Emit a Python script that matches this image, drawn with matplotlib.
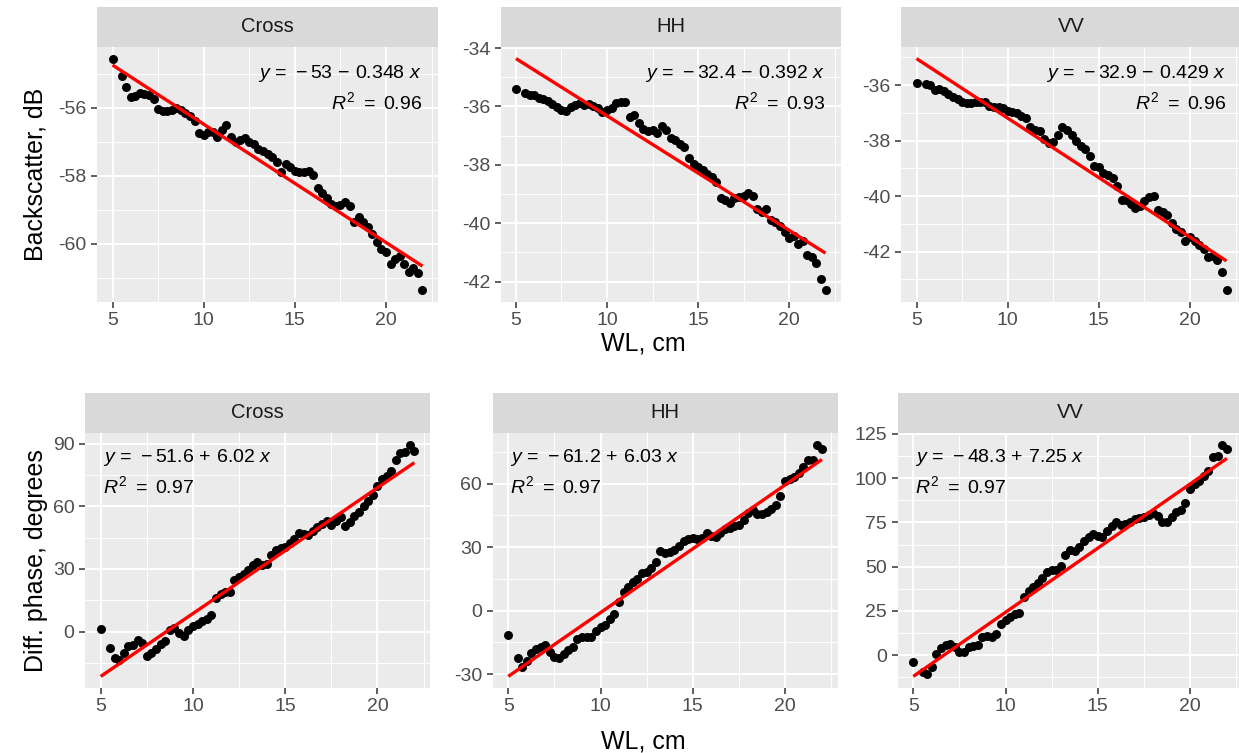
import numpy as np
import matplotlib
matplotlib.use('Agg')
import matplotlib.pyplot as plt
from matplotlib.ticker import MultipleLocator, FuncFormatter

plt.rcParams['font.family'] = ['Liberation Sans', 'DejaVu Sans']
plt.rcParams['axes.unicode_minus'] = False
plt.rcParams['mathtext.fontset'] = 'custom'
plt.rcParams['mathtext.rm'] = 'Liberation Sans'
plt.rcParams['mathtext.it'] = 'Liberation Sans:italic'
plt.rcParams['mathtext.bf'] = 'Liberation Sans:bold'

# wavelength grid (cm)
wl = np.concatenate([[5.0], np.arange(5.5, 22.01, 0.25)])

# backscatter, dB
bs_cross = [-54.55, -55.05, -55.4, -55.68, -55.65, -55.55, -55.58, -55.63, -55.75, -56.02,
            -56.08, -56.1, -56.05, -56.0, -56.05, -56.15, -56.25, -56.4, -56.75, -56.8,
            -56.72, -56.7, -56.85, -56.65, -56.5, -56.85, -57.0, -56.95, -56.9, -57.0,
            -57.05, -57.22, -57.28, -57.35, -57.45, -57.6, -57.9, -57.65, -57.75, -57.85,
            -57.9, -57.88, -57.85, -57.98, -58.35, -58.5, -58.65, -58.82, -58.9, -58.85,
            -58.78, -58.88, -59.35, -59.2, -59.35, -59.5, -59.7, -59.95, -60.15, -60.25,
            -60.6, -60.45, -60.35, -60.6, -60.82, -60.7, -60.85, -61.37]
bs_hh = [-35.39, -35.55, -35.6, -35.6, -35.7, -35.74, -35.82, -35.92, -36.02, -36.12,
         -36.15, -36.03, -35.95, -35.88, -35.95, -35.93, -35.97, -36.05, -36.18, -36.13,
         -36.05, -35.88, -35.85, -35.85, -36.35, -36.3, -36.55, -36.77, -36.83, -36.8,
         -36.9, -36.68, -36.8, -37.08, -37.15, -37.28, -37.4, -37.75, -37.98, -38.08,
         -38.17, -38.3, -38.42, -38.58, -39.15, -39.2, -39.3, -39.12, -39.1, -39.07,
         -38.97, -39.05, -39.5, -39.62, -39.5, -39.88, -39.95, -40.1, -40.3, -40.5,
         -40.45, -40.7, -40.62, -41.1, -41.15, -41.35, -41.9, -42.3]
bs_vv = [-35.94, -35.95, -35.98, -36.18, -36.13, -36.22, -36.32, -36.42, -36.5, -36.6,
         -36.66, -36.64, -36.62, -36.6, -36.62, -36.75, -36.8, -36.78, -36.84, -36.92,
         -36.98, -37.02, -37.12, -37.2, -37.5, -37.62, -37.65, -37.95, -38.1, -38.05,
         -37.8, -37.5, -37.62, -37.8, -38.0, -38.18, -38.3, -38.55, -38.92, -38.95,
         -39.18, -39.24, -39.35, -39.65, -40.15, -40.15, -40.3, -40.42, -40.35, -40.18,
         -40.04, -39.98, -40.5, -40.56, -40.7, -40.98, -41.2, -41.28, -41.62, -41.48,
         -41.62, -41.78, -41.9, -42.2, -42.15, -42.3, -42.75, -43.4]

# differential phase, degrees
ph_cross = [1.0, -8.0, -12.5, -13.5, -10.5, -7.0, -6.5, -4.0, -5.5, -11.5,
            -10.5, -8.5, -6.0, -4.5, 0.5, 1.5, -0.5, -2.0, 0.5, 2.5,
            3.5, 5.0, 6.0, 8.0, 16.0, 18.0, 19.0, 19.0, 24.5, 26.0,
            27.5, 29.5, 32.0, 33.5, 32.0, 32.5, 36.5, 39.0, 40.2, 40.5,
            42.6, 44.5, 47.0, 46.5, 46.0, 48.2, 50.0, 51.5, 53.0, 50.8,
            53.0, 55.0, 50.6, 52.2, 55.5, 57.0, 60.0, 62.5, 65.5, 69.5,
            73.2, 74.5, 77.0, 82.0, 85.5, 85.8, 89.5, 86.5]
ph_hh = [-11.4, -22.5, -26.5, -24.0, -20.0, -18.0, -17.0, -16.4, -19.3, -22.0,
         -22.5, -20.4, -18.5, -17.0, -13.5, -12.2, -12.5, -12.2, -9.5, -7.5,
         -6.6, -4.0, -1.5, 4.0, 9.0, 11.0, 13.5, 15.0, 17.8, 18.2,
         20.0, 23.0, 28.0, 27.3, 27.8, 28.5, 30.5, 33.0, 34.0, 34.4,
         34.0, 34.5, 36.8, 35.5, 34.6, 36.5, 38.5, 39.3, 39.8, 40.5,
         43.0, 46.0, 47.5, 45.5, 45.8, 46.5, 48.0, 50.0, 54.0, 61.5,
         62.1, 63.0, 65.0, 68.0, 71.0, 71.2, 78.5, 76.5]
ph_vv = [-4.1, -9.5, -10.5, -7.0, 0.5, 3.8, 5.5, 6.2, 4.5, 1.5,
         2.0, 4.3, 5.0, 5.8, 10.5, 10.8, 10.5, 11.9, 17.5, 19.8,
         21.5, 23.2, 24.0, 33.0, 36.0, 38.5, 40.8, 43.5, 46.8, 48.0,
         48.0, 50.5, 56.5, 59.5, 58.8, 61.0, 64.5, 67.0, 68.2, 67.3,
         67.0, 70.3, 73.1, 75.0, 73.5, 74.0, 75.5, 76.9, 77.4, 78.0,
         79.0, 80.5, 78.5, 75.5, 75.5, 78.0, 81.0, 82.0, 86.0, 94.0,
         97.0, 98.3, 101.0, 104.3, 112.0, 112.5, 119.0, 116.5]

facets = ['Cross', 'HH', 'VV', 'Cross', 'HH', 'VV']
series = [bs_cross, bs_hh, bs_vv, ph_cross, ph_hh, ph_vv]
intercepts = [-53, -32.4, -32.9, -51.6, -61.2, -48.3]
slopes = [-0.348, -0.392, -0.429, 6.02, 6.03, 7.25]
r2 = [0.96, 0.93, 0.96, 0.97, 0.97, 0.97]
ystep = [2, 2, 2, 30, 30, 25]

W, H = 1239, 753
fig = plt.figure(figsize=(W / 100, H / 100), dpi=100)

# panel boxes in pixels: left, top, right, bottom
boxes = [(97, 47, 438, 302), (500.5, 47, 841, 302), (901, 47, 1242, 302),
         (85, 433, 430, 688), (492.6, 433, 837.6, 688), (897.6, 433, 1242.6, 688)]
strip_h = 40

for i, (l, t, r, b) in enumerate(boxes):
    ax = fig.add_axes([l / W, 1 - b / H, (r - l) / W, (b - t) / H])
    sax = fig.add_axes([l / W, 1 - t / H, (r - l) / W, strip_h / H])
    sax.set_facecolor('#D9D9D9')
    sax.set_xticks([]); sax.set_yticks([])
    for s in sax.spines.values():
        s.set_visible(False)
    sax.text(0.5, 0.5, facets[i], ha='center', va='center', fontsize=14.5, color='#1A1A1A')

    y = np.array(series[i])
    a, k = intercepts[i], slopes[i]
    xs = np.array([wl.min(), wl.max()])
    fit = a + k * xs

    ax.set_facecolor('#EBEBEB')
    for s in ax.spines.values():
        s.set_visible(False)
    ax.scatter(wl, y, s=42, c='black', linewidths=0, zorder=3)
    ax.plot(xs, fit, color='red', lw=2.4, zorder=4, solid_capstyle='butt')

    xpad = 0.05 * (wl.max() - wl.min())
    ax.set_xlim(wl.min() - xpad, wl.max() + xpad)
    lo, hi = min(y.min(), fit.min()), max(y.max(), fit.max())
    ypad = 0.05 * (hi - lo)
    ax.set_ylim(lo - ypad, hi + ypad)

    ax.xaxis.set_major_locator(MultipleLocator(5))
    ax.xaxis.set_minor_locator(MultipleLocator(2.5))
    ax.yaxis.set_major_locator(MultipleLocator(ystep[i]))
    ax.yaxis.set_minor_locator(MultipleLocator(ystep[i] / 2))
    ax.yaxis.set_major_formatter(FuncFormatter(lambda v, p: f'{v:g}'))
    ax.grid(which='major', color='white', lw=1.4)
    ax.grid(which='minor', color='white', lw=0.7)
    ax.set_axisbelow(True)
    ax.tick_params(which='minor', length=0)
    ax.tick_params(which='major', length=4.3, width=1.1, color='#333333',
                   labelcolor='#4D4D4D', labelsize=14, pad=3.2)

    sign = '+' if k >= 0 else '-'
    eq = rf'$\mathit{{y}}\,=\,{a:g}\,{sign}\,{abs(k):g}\ \mathit{{x}}$'
    rr = rf'$\mathit{{R}}^2\ =\ {r2[i]:.2f}$'
    if i < 3:
        ax.text(0.953, 0.878, eq, transform=ax.transAxes, ha='right', va='baseline', fontsize=14)
        ax.text(0.953, 0.757, rr, transform=ax.transAxes, ha='right', va='baseline', fontsize=14)
    else:
        ax.text(0.051, 0.885, eq, transform=ax.transAxes, ha='left', va='baseline', fontsize=14)
        ax.text(0.051, 0.764, rr, transform=ax.transAxes, ha='left', va='baseline', fontsize=14)

fig.text(36 / W, 1 - 174.5 / H, 'Backscatter, dB', rotation=90, ha='center', va='center', fontsize=18)
fig.text(36 / W, 1 - 560.5 / H, 'Diff. phase, degrees', rotation=90, ha='center', va='center', fontsize=18)
fig.text(643 / W, 1 - 343 / H, 'WL, cm', ha='center', va='center', fontsize=18)
fig.text(643 / W, 1 - 741 / H, 'WL, cm', ha='center', va='center', fontsize=18)

fig.savefig('out.png', dpi=100, facecolor='white')
